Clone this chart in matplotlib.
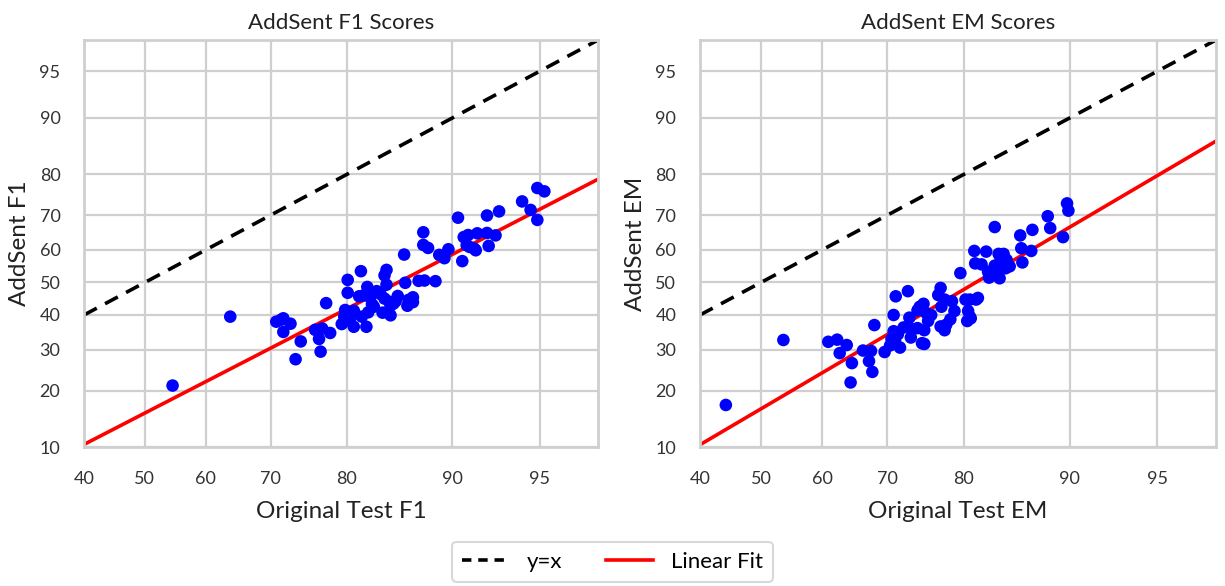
import math
import numpy as np
import matplotlib
matplotlib.use("Agg")
import matplotlib.pyplot as plt

# ---------------- data ----------------
f1_orig = [54.6, 63.9, 70.8, 71.5, 71.8, 72.8, 71.8, 74.2, 73.5, 76.1, 77.0, 76.6, 76.8, 78.0,
           77.5, 80.1, 80.1, 81.6, 79.8, 79.7, 79.4, 80.3, 80.8, 80.8, 81.4, 81.9, 82.3, 82.6,
           82.8, 82.4, 81.7, 82.2, 83.3, 83.7, 84.1, 84.3, 84.1, 84.3, 83.9, 84.7, 84.7, 85.2,
           85.4, 86.0, 86.1, 86.3, 86.4, 86.8, 86.8, 87.7, 87.7, 88.1, 87.3, 87.8, 88.7, 89.0,
           89.4, 89.7, 90.4, 90.7, 90.8, 91.1, 91.0, 91.2, 91.5, 91.6, 91.7, 92.3, 92.3, 92.4,
           92.8, 93.0, 94.2, 94.6, 94.9, 95.2, 94.9, 83.0, 80.5, 84.6, 85.0, 79.9]
f1_addsent = [21.1, 39.5, 38.0, 38.6, 39.0, 37.4, 35.0, 32.3, 27.5, 35.6, 36.0, 33.0, 29.5, 34.7,
              43.6, 50.8, 46.8, 53.5, 41.5, 39.5, 37.3, 38.2, 41.3, 36.5, 45.7, 46.0, 48.6, 45.4,
              43.3, 40.8, 39.5, 36.5, 47.3, 46.4, 45.0, 53.9, 52.2, 49.3, 40.7, 39.9, 42.8, 44.2,
              45.8, 58.6, 49.9, 42.8, 44.6, 45.4, 43.9, 65.2, 61.5, 60.6, 50.5, 50.6, 50.4, 58.5,
              57.5, 60.2, 69.3, 56.6, 63.8, 64.4, 61.4, 60.9, 60.4, 59.9, 64.9, 65.0, 69.9, 61.2,
              64.3, 71.0, 73.6, 71.4, 76.9, 76.1, 68.7, 42.5, 39.5, 44.0, 43.5, 40.5]

em_orig = [44.2, 53.7, 61.0, 62.4, 63.9, 62.8, 64.7, 64.5, 66.4, 67.6, 67.3, 67.8, 68.1, 69.6,
           70.9, 71.2, 72.9, 70.6, 70.9, 71.5, 70.4, 71.8, 72.3, 73.1, 73.3, 74.2, 74.8, 75.1,
           75.1, 74.2, 75.0, 75.5, 76.0, 75.6, 76.9, 77.2, 77.3, 77.7, 78.6, 78.9, 78.4, 77.9,
           77.2, 77.7, 79.6, 80.2, 80.7, 81.4, 81.6, 80.5, 80.7, 80.4, 80.8, 81.2, 81.3, 82.0,
           82.5, 82.7, 82.8, 83.4, 83.8, 83.4, 83.9, 84.3, 84.2, 84.5, 84.9, 85.9, 86.0, 86.1,
           86.9, 87.0, 88.3, 88.5, 89.5, 89.8, 89.9, 73.5, 74.5, 75.4, 71.1, 84.0, 84.6, 83.6]
em_addsent = [17.0, 32.7, 32.2, 32.8, 31.3, 29.1, 26.5, 21.8, 29.8, 29.7, 27.0, 24.3, 37.0, 29.4,
              40.0, 45.7, 47.3, 33.0, 35.2, 34.3, 31.2, 30.6, 36.3, 39.2, 33.4, 36.1, 31.8, 31.6,
              35.5, 41.4, 43.4, 40.3, 40.0, 38.2, 46.1, 48.3, 42.5, 44.7, 44.2, 41.2, 38.7, 37.1,
              36.6, 35.5, 52.9, 44.7, 44.7, 44.7, 45.2, 41.2, 39.5, 38.2, 39.0, 59.7, 55.9, 55.6,
              59.5, 53.3, 51.5, 66.7, 58.8, 55.2, 51.3, 58.8, 56.2, 54.4, 55.0, 64.3, 60.5, 56.2,
              59.7, 65.9, 69.7, 66.4, 63.8, 73.1, 71.2, 35.8, 42.5, 40.5, 32.4, 57.5, 57.0, 53.8]

x_ticks = [40, 50, 60, 70, 80, 90, 95]
y_ticks = [10, 20, 30, 40, 50, 60, 70, 80, 90, 95]
titles = ["AddSent F1 Scores", "AddSent EM Scores"]
x_labels = ["Original Test F1", "Original Test EM"]
y_labels = ["AddSent F1", "AddSent EM"]
legend_labels = ["y=x", "Linear Fit"]

# ---------------- probit scale helpers ----------------
_a = [-3.969683028665376e+01, 2.209460984245205e+02, -2.759285104469687e+02,
      1.383577518672690e+02, -3.066479806614716e+01, 2.506628277459239e+00]
_b = [-5.447609879822406e+01, 1.615858368580409e+02, -1.556989798598866e+02,
      6.680131188771972e+01, -1.328068155288572e+01]
_c = [-7.784894002430293e-03, -3.223964580411365e-01, -2.400758277161838e+00,
      -2.549671348283430e+00, 4.374664141464968e+00, 2.938163982698783e+00]
_d = [7.784695709041462e-03, 3.224671290700398e-01, 2.445134137142996e+00,
      3.754408661907416e+00]


def _ndtri(p):
    p = np.asarray(p, dtype=float)
    shape = p.shape
    p = np.clip(np.atleast_1d(p).ravel(), 1e-9, 1 - 1e-9)
    out = np.empty_like(p)
    plow = 0.02425
    lo = p < plow
    hi = p > 1 - plow
    mid = ~(lo | hi)
    q = np.sqrt(-2 * np.log(p[lo]))
    out[lo] = (((((_c[0]*q+_c[1])*q+_c[2])*q+_c[3])*q+_c[4])*q+_c[5]) / \
              ((((_d[0]*q+_d[1])*q+_d[2])*q+_d[3])*q+1)
    q = p[mid] - 0.5
    r = q * q
    out[mid] = (((((_a[0]*r+_a[1])*r+_a[2])*r+_a[3])*r+_a[4])*r+_a[5])*q / \
               (((((_b[0]*r+_b[1])*r+_b[2])*r+_b[3])*r+_b[4])*r+1)
    q = np.sqrt(-2 * np.log(1 - p[hi]))
    out[hi] = -(((((_c[0]*q+_c[1])*q+_c[2])*q+_c[3])*q+_c[4])*q+_c[5]) / \
               ((((_d[0]*q+_d[1])*q+_d[2])*q+_d[3])*q+1)
    return out.reshape(shape)


_erf = np.vectorize(math.erf)


def fwd(v):
    return _ndtri(np.asarray(v, dtype=float) / 100.0)


def inv(z):
    z = np.asarray(z, dtype=float)
    return 100.0 * 0.5 * (1.0 + _erf(z / math.sqrt(2.0)))


# ---------------- figure ----------------
plt.rcParams["font.family"] = ["Lato", "DejaVu Sans"]
fig = plt.figure(figsize=(12.25, 5.86), dpi=100)
grid_c = "#cfcfcf"
axes_pos = [[0.0686, 0.2372, 0.4196, 0.6945], [0.5714, 0.2372, 0.4212, 0.6945]]
datasets = [(f1_orig, f1_addsent), (em_orig, em_addsent)]
xlim = (40, 97.05)
ylim = (10, 97.05)

handles = None
for i, (xs_d, ys_d) in enumerate(datasets):
    ax = fig.add_axes(axes_pos[i])
    ax.set_xscale("function", functions=(fwd, inv))
    ax.set_yscale("function", functions=(fwd, inv))
    ax.set_xlim(*xlim)
    ax.set_ylim(*ylim)
    ax.set_xticks(x_ticks)
    ax.set_yticks(y_ticks)
    ax.set_xticklabels([str(t) for t in x_ticks])
    ax.set_yticklabels([str(t) for t in y_ticks])
    ax.set_xticks([], minor=True)
    ax.set_yticks([], minor=True)
    ax.grid(True, color=grid_c, lw=1.6, zorder=0)
    ax.set_axisbelow(True)
    for s in ax.spines.values():
        s.set_color(grid_c)
        s.set_linewidth(2.0)
    ax.tick_params(axis="both", length=0, pad=17, labelsize=13, labelcolor="#333333")

    xline = np.linspace(xlim[0], xlim[1], 300)
    l1, = ax.plot(xline, xline, color="black", lw=2.6, linestyle=(0, (4, 2.6)), zorder=2)

    zx = fwd(np.array(xs_d))
    zy = fwd(np.array(ys_d))
    slope, icpt = np.polyfit(zx, zy, 1)
    l2, = ax.plot(xline, inv(slope * fwd(xline) + icpt), color="red", lw=2.6, zorder=2)

    ax.scatter(xs_d, ys_d, s=82, color="blue", edgecolors="none", zorder=3)

    ax.set_title(titles[i], fontsize=16, color="#222222", pad=8)
    ax.set_xlabel(x_labels[i], fontsize=17.5, color="#222222", labelpad=10)
    ax.set_ylabel(y_labels[i], fontsize=17.5, color="#222222", labelpad=7)
    handles = [l1, l2]

leg = fig.legend(handles, legend_labels, loc="lower center", bbox_to_anchor=(0.5, -0.012),
                 ncol=2, fontsize=16, frameon=True, handlelength=2.1, columnspacing=2.0,
                 handletextpad=0.8, borderpad=0.45, fancybox=True)
leg.get_frame().set_edgecolor(grid_c)
leg.get_frame().set_linewidth(1.5)
leg.get_lines()[0].set_linestyle((0, (2.6, 1.9)))

fig.savefig("out.png", dpi=100)
